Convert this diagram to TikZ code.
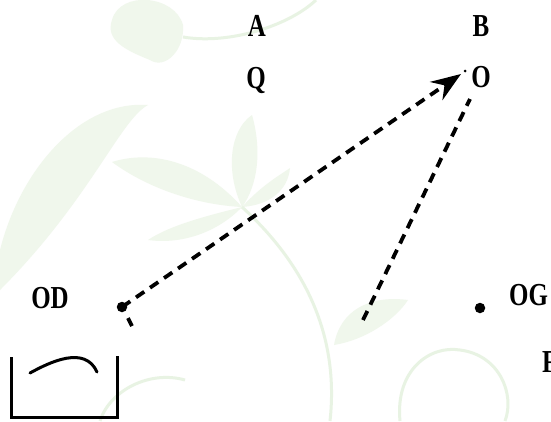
\documentclass[tikz,border=0pt]{standalone}
\usepackage{fontspec}
\usepackage{graphicx}
\setmainfont{Liberation Serif}
\usetikzlibrary{arrows.meta}
\definecolor{leaf}{RGB}{240,247,236}
\definecolor{leafline}{RGB}{232,243,227}
\newcommand\cnd[1]{\scalebox{0.78}[1]{#1}}
\tikzset{
  lbl/.style={inner sep=0pt, anchor=base, font=\fontsize{32}{32}\selectfont\bfseries},
  lblw/.style={lbl, anchor=base west},
  pt/.style={circle, fill=black, inner sep=0pt, minimum size=10.5pt},
  dsh/.style={line width=3.8pt, dash pattern=on 10pt off 7pt},
  solidln/.style={line width=3pt},
  deco/.style={fill=leaf, draw=none},
  decoln/.style={draw=leafline, line width=3pt}
}
\begin{document}
\begin{tikzpicture}[x=1pt,y=-1pt]
\useasboundingbox (0,0) rectangle (551,421);
\fill[white] (0,0) rectangle (551,421);
% faint background decoration
\fill[deco] (112,20) .. controls (120,-10) and (175,-5) .. (183,25) .. controls (185,50) and (165,70) .. (150,60) .. controls (125,50) and (105,40) .. (112,20) -- cycle;
\draw[decoln] (183,37) .. controls (230,45) and (290,25) .. (316,0);
\fill[deco] (0,250) .. controls (20,170) and (80,100) .. (148,105) .. controls (120,120) and (90,200) .. (0,290) -- cycle;
\fill[deco] (242,207) .. controls (200,160) and (150,150) .. (112,162) .. controls (150,190) and (200,205) .. (242,207) -- cycle;
\fill[deco] (242,207) .. controls (225,170) and (230,130) .. (252,115) .. controls (262,150) and (258,185) .. (242,207) -- cycle;
\fill[deco] (242,207) .. controls (262,185) and (280,175) .. (290,168) .. controls (288,190) and (270,205) .. (242,207) -- cycle;
\fill[deco] (242,207) .. controls (210,215) and (170,225) .. (148,240) .. controls (185,245) and (220,230) .. (242,207) -- cycle;
\draw[decoln] (242,207) .. controls (300,260) and (340,330) .. (330,421);
\fill[deco] (334,345) .. controls (340,310) and (370,295) .. (408,300) .. controls (395,320) and (365,340) .. (334,345) -- cycle;
\draw[decoln] (400,421) .. controls (395,370) and (430,345) .. (460,350) .. controls (500,355) and (515,395) .. (505,421);
\draw[decoln] (100,421) .. controls (110,390) and (150,370) .. (185,380);
% diagram
\node[lbl] (A) at (257,36) {\cnd{A}};
\node[lbl] (B) at (481,36) {\cnd{B}};
\node[lbl] (Q) at (256,88) {\cnd{Q}};
\node[lbl] (O) at (481,87) {\cnd{O}};
\node[lbl] (OD) at (50,308) {\cnd{OD}};
\node[lblw] (OG) at (509,305) {\cnd{OG}};
\node[lblw] (F) at (542,372) {\cnd{F}};
\node[pt] (D) at (122,307) {};
\node[pt] (G) at (480,308) {};
\node[circle, fill=black, inner sep=0pt, minimum size=3pt] (s) at (465,71) {};
\coordinate (tip) at (461,74);
\coordinate (c1) at (363,320);
\coordinate (c2) at (470,99);
\coordinate (d1) at (128,318);
\coordinate (d2) at (132,326);
\draw[dsh, -{Stealth[length=30pt, width=22pt, inset=10pt]}] (D.center) -- (tip);
\draw[dsh] (c1) -- (c2);
\draw[line width=3.8pt] (d1) -- (d2);
% beaker
\coordinate (b1) at (11,357);
\coordinate (b2) at (11,417);
\coordinate (b3) at (117,417);
\coordinate (b4) at (117,356);
\draw[solidln] (b1) -- (b2) -- (b3) -- (b4);
\coordinate (a1) at (30,373);
\coordinate (a2) at (97,372);
\draw[solidln, line cap=round] (a1) .. controls (50,362) and (85,345) .. (a2);
\end{tikzpicture}
\end{document}
